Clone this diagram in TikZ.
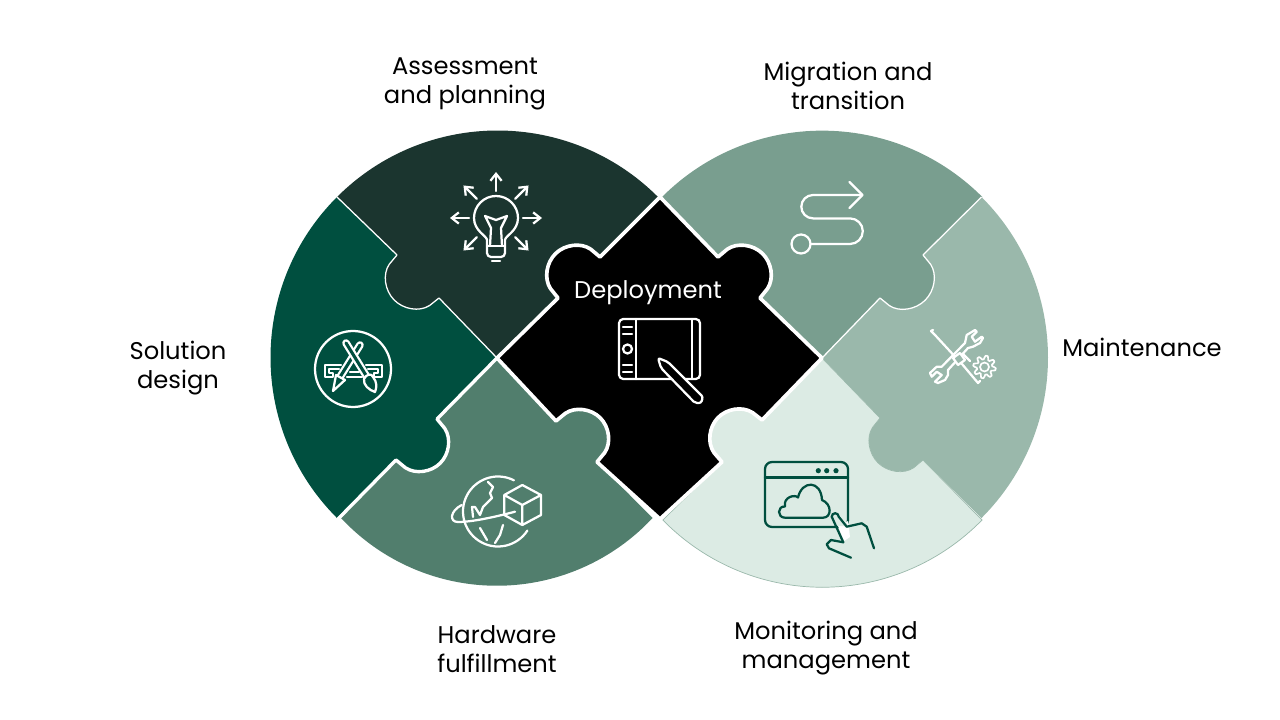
\documentclass[tikz,border=0pt]{standalone}
\usepackage{fontspec}
\setmainfont{Poppins}
\usetikzlibrary{arrows.meta,calc}
\definecolor{assesscol}{HTML}{1B352F}
\definecolor{solutioncol}{HTML}{004F3F}
\definecolor{hardwarecol}{HTML}{517E6D}
\definecolor{migratecol}{HTML}{799E8F}
\definecolor{maintcol}{HTML}{9AB8AB}
\definecolor{monitorcol}{HTML}{DCEBE4}
\newcommand{\knob}[3]{-- (#1)
  -- ($(#1)!.02!(#2)!12*.025cm!#3:(#2)$)
  .. controls ($(#1)!.06!(#2)!24*.025cm!#3:(#2)$) and ($(#1)!.28!(#2)!33.5*.025cm!#3:(#2)$)
  .. ($(#1)!.5!(#2)!33.5*.025cm!#3:(#2)$)
  .. controls ($(#1)!.72!(#2)!33.5*.025cm!#3:(#2)$) and ($(#1)!.94!(#2)!24*.025cm!#3:(#2)$)
  .. ($(#1)!.98!(#2)!12*.025cm!#3:(#2)$) -- (#2)}
\begin{document}
\begin{tikzpicture}[
    x=.025cm, y=-.025cm,
    label/.style={align=center, font=\fontsize{17.2}{20.6}\selectfont},
    thinline/.style={draw=white, line width=.9pt, line join=round},
    wideline/.style={draw=white, line width=2.4pt, line join=round},
    tile/.style={fill=black, draw=white, line width=2.6pt, line join=round},
    icon/.style={draw=white, line width=1.6pt, line join=round, line cap=round},
    darkicon/.style={draw=solutioncol, line width=1.6pt, line join=round, line cap=round}
  ]
  \useasboundingbox (0,0) rectangle (1280,720);
  \coordinate (lc) at (497,358);
  \coordinate (rc) at (822,358);
  \coordinate (dt) at (660,197);
  \coordinate (db) at (660,519);
  \coordinate (ltop) at (337,197);
  \coordinate (lbot) at (338,519);
  \coordinate (rtop) at (981.5,197);
  \coordinate (rbot) at (982,520);
  \coordinate (a1) at (397,255);
  \coordinate (a2) at (439,298);
  \coordinate (b1) at (396,460);
  \coordinate (b2) at (437,419);
  \coordinate (c1) at (558,298);
  \coordinate (c2) at (600,257);
  \coordinate (d1) at (718,257);
  \coordinate (d2) at (760,298);
  \coordinate (e1) at (762,420);
  \coordinate (e2) at (722,462);
  \coordinate (f1) at (597,462);
  \coordinate (f2) at (556,421);
  \coordinate (g1) at (880,298);
  \coordinate (g2) at (923,255);
  \coordinate (h1) at (880,418);
  \coordinate (h2) at (923,460);

  % left disc
  \fill[solutioncol] (ltop) arc[start angle=-135, end angle=-225, radius=227]
    \knob{b1}{b2}{-90} -- (lc) \knob{a2}{a1}{90} -- cycle;
  \fill[assesscol] (ltop) arc[start angle=-135, end angle=-45, radius=227]
    \knob{c2}{c1}{-90} -- (lc) \knob{a2}{a1}{90} -- cycle;
  \fill[hardwarecol] (341,518) arc[start angle=137, end angle=43, radius=213]
    \knob{f1}{f2}{-90} -- (lc) \knob{b2}{b1}{90} -- cycle;
  \draw[thinline] (lc) \knob{a2}{a1}{90} -- (ltop);
  \draw[wideline] (lc) \knob{b2}{b1}{90} -- (lbot);

  % right disc
  \fill[maintcol] (rtop) arc[start angle=-45, end angle=45, radius=227]
    \knob{h2}{h1}{90} -- (rc) \knob{g1}{g2}{-90} -- cycle;
  \fill[migratecol] (662,197) arc[start angle=-135, end angle=-45, radius=226.5]
    \knob{g2}{g1}{90} -- (rc) \knob{d2}{d1}{-90} -- cycle;
  \filldraw[fill=monitorcol, draw=maintcol, line width=.5pt] (rbot)
    arc[start angle=44.3, end angle=135.7, radius=223]
    \knob{e2}{e1}{90} -- (rc) \knob{h1}{h2}{-90} -- cycle;
  \draw[thinline] (rc) \knob{g1}{g2}{-90} -- (rtop);

  \draw[tile] (dt) \knob{d1}{d2}{90} -- (rc) \knob{e1}{e2}{-90} -- (db)
    \knob{f1}{f2}{-90} -- (lc) \knob{c1}{c2}{90} -- cycle;

  \node[label] (assess) at (465,84) {Assessment\\and planning};
  \node[label] (migrate) at (848,85.5) {Migration and\\transition};
  \node[label] (solution) at (178,368) {Solution\\design};
  \node[label] (maint) at (1142,347) {Maintenance};
  \node[label] (hardware) at (497,649) {Hardware\\fulfillment};
  \node[label] (monitor) at (826,648) {Monitoring and\\management};
  \node[label, text=white] (deploy) at (648,293) {Deployment};

  % bulb
  \coordinate (bulb) at (496,218);
  \foreach \a in {-90,-45,0,45,135,180,-135}
    \draw[icon, -{Straight Barb[length=5pt,width=8pt]}]
      ($(bulb)+(\a:27)$) -- ($(bulb)+(\a:46)$);
  \draw[icon] (487,240) .. controls (487,236) and (474,231) .. (474,218)
    arc[start angle=180, end angle=360, radius=22]
    .. controls (518,231) and (505,236) .. (505,240) -- (505,253)
    arc[start angle=0, end angle=90, radius=4] -- (491,257)
    arc[start angle=90, end angle=180, radius=4] -- cycle;
  \draw[icon] (487,246) -- (505,246);
  \draw[icon] (490,246) -- (491,228) -- (485,216) -- (496,220) -- (507,216)
    -- (501,228) -- (502,246);
  \draw[icon] (492,261) -- (500,261);

  % app design
  \draw[icon] (353,369) circle[radius=38];
  \draw[icon] (341,365) -- (325,365) -- (325,377) -- (333,377) -- (333,373) -- (329,373)
    -- (329,369) -- (339,369);
  \draw[icon] (366,365) -- (382,365) -- (382,377) -- (374,377) -- (374,373) -- (378,373)
    -- (378,369) -- (368,369);
  \draw[icon] (350,372) -- (359,372) (347,377) -- (362,377);
  \draw[icon, double=solutioncol, double distance=2.2pt] (360,345) -- (340,377);
  \draw[icon, fill=solutioncol] (336,375) -- (345,380) -- (333,391) -- cycle;
  \draw[icon, double=solutioncol, double distance=2.2pt] (346,343) -- (367,377);
  \draw[icon, fill=solutioncol] (364,379) .. controls (366,374) and (372,373) .. (373,377)
    .. controls (377,382) and (377,387) .. (375,392) .. controls (369,390) and (363,385) .. (364,379);

  % tablet and pen
  \draw[icon, rounded corners=3pt] (619,319) rectangle (700,379);
  \draw[icon] (636,319) -- (636,379) (692,319) -- (692,379);
  \draw[icon] (623,327) -- (632,327) (623,334) -- (632,334)
    (623,365) -- (632,365) (623,372) -- (632,372);
  \draw[icon] (627.5,349) circle[radius=4.5];
  \draw[icon, fill=black, rounded corners=1.5pt] (658,358) -- (668,362) -- (703,397)
    -- (701,403) -- (695,403) -- (661,368) -- cycle;

  % route
  \draw[icon] (801,244) circle[radius=9.5];
  \draw[icon] (810.5,244) -- (850,244) arc[start angle=90, end angle=-90, radius=12.8]
    -- (813,218.4) arc[start angle=90, end angle=270, radius=11.7] -- (862,195);
  \draw[icon] (849.5,182) -- (862.5,195) -- (849.5,208);

  % tools
  \draw[icon] (965,343) -- (966.7,335) -- (975,330) -- (976.7,331.7) -- (971.7,336.7)
    -- (975,341.7) -- (981.7,336.7) -- (983,338) -- (980,343) -- (973,346.7) -- (968,348)
    -- (948,370) -- (948,375) -- (945,380) -- (938,383) -- (935,381.7) -- (941.7,375)
    -- (936.7,371.7) -- (931.7,376.7) -- (930,373) -- (936.7,366.7) -- (941.7,366.7) -- cycle;
  \draw[icon] (935,335) -- (955,356.7) (935,335) -- (931,331) -- (933,330);
  \draw[icon] (962,364) -- (978,383) -- (980,381);
  \draw[icon, fill=maintcol] (953,358) -- (960,353) -- (965,360) -- (958,365) -- cycle;
  \draw[icon] (963,354) -- (970,361);
  \draw[icon, line width=1.2pt, shift={(984.5,367)}] plot[samples=65, domain=0:360]
    (\x:{9.5+1.8*sign(sin(8*\x))}) -- cycle;
  \draw[icon, line width=1.2pt] (984.5,367) circle[radius=4.5];

  % globe and box
  \coordinate (globe) at (498,511.5);
  \draw[icon] ([shift={(33:35)}]globe) arc[start angle=33, end angle=297, radius=35];
  \draw[icon] (515,511.7) .. controls (495,517) and (472,522) .. (458,522)
    .. controls (449,522) and (450,511) .. (461.7,505);
  \draw[icon] (488,482) -- (493,487) -- (490,493) -- (492,498) -- (483,507) -- (480,515)
    -- (475,507) -- (472,507) -- (473,517);
  \draw[icon] (480,528) -- (487,540) (503,525) -- (500,535) -- (495,543);
  \draw[icon] (522.3,485) -- (541,495) -- (541,515) -- (522.3,525) -- (504.3,515)
    -- (504.3,495) -- cycle (504.3,495) -- (522.3,505) -- (541,495) (522.3,505) -- (522.3,525);

  % browser and hand
  \draw[darkicon, rounded corners=5pt] (765,462) rectangle (848,527);
  \draw[darkicon] (765,477.5) -- (848,477.5);
  \fill[solutioncol] (818.3,470.7) circle[radius=2.6] (826.7,470.7) circle[radius=2.6]
    (836,470.7) circle[radius=2.6];
  \draw[darkicon] (785,517.7) .. controls (777,517.7) and (777,506) .. (785,506.5)
    .. controls (783,497) and (795,494) .. (798,497.5)
    .. controls (802,480) and (821,480) .. (822,500)
    .. controls (832,504) and (832,517.7) .. (823,517.7) -- cycle;
  \fill[white] (838,526) -- (848,521) -- (850,537) -- (844,541) -- cycle;
  \fill[monitorcol] (832,512) -- (840,510) -- (848,526) -- (838,526) -- cycle;
  \draw[darkicon] (843.3,542.3) -- (831.7,516.7) arc[start angle=180, end angle=360, radius=3.5]
    -- (846.7,526.7) -- (861.7,523.3) -- (866.7,526.7) -- (874,548.3);
  \draw[darkicon] (843.3,542.3) -- (831,540) -- (826.7,544.3) -- (829,548.3) -- (851,557.7);
\end{tikzpicture}
\end{document}
